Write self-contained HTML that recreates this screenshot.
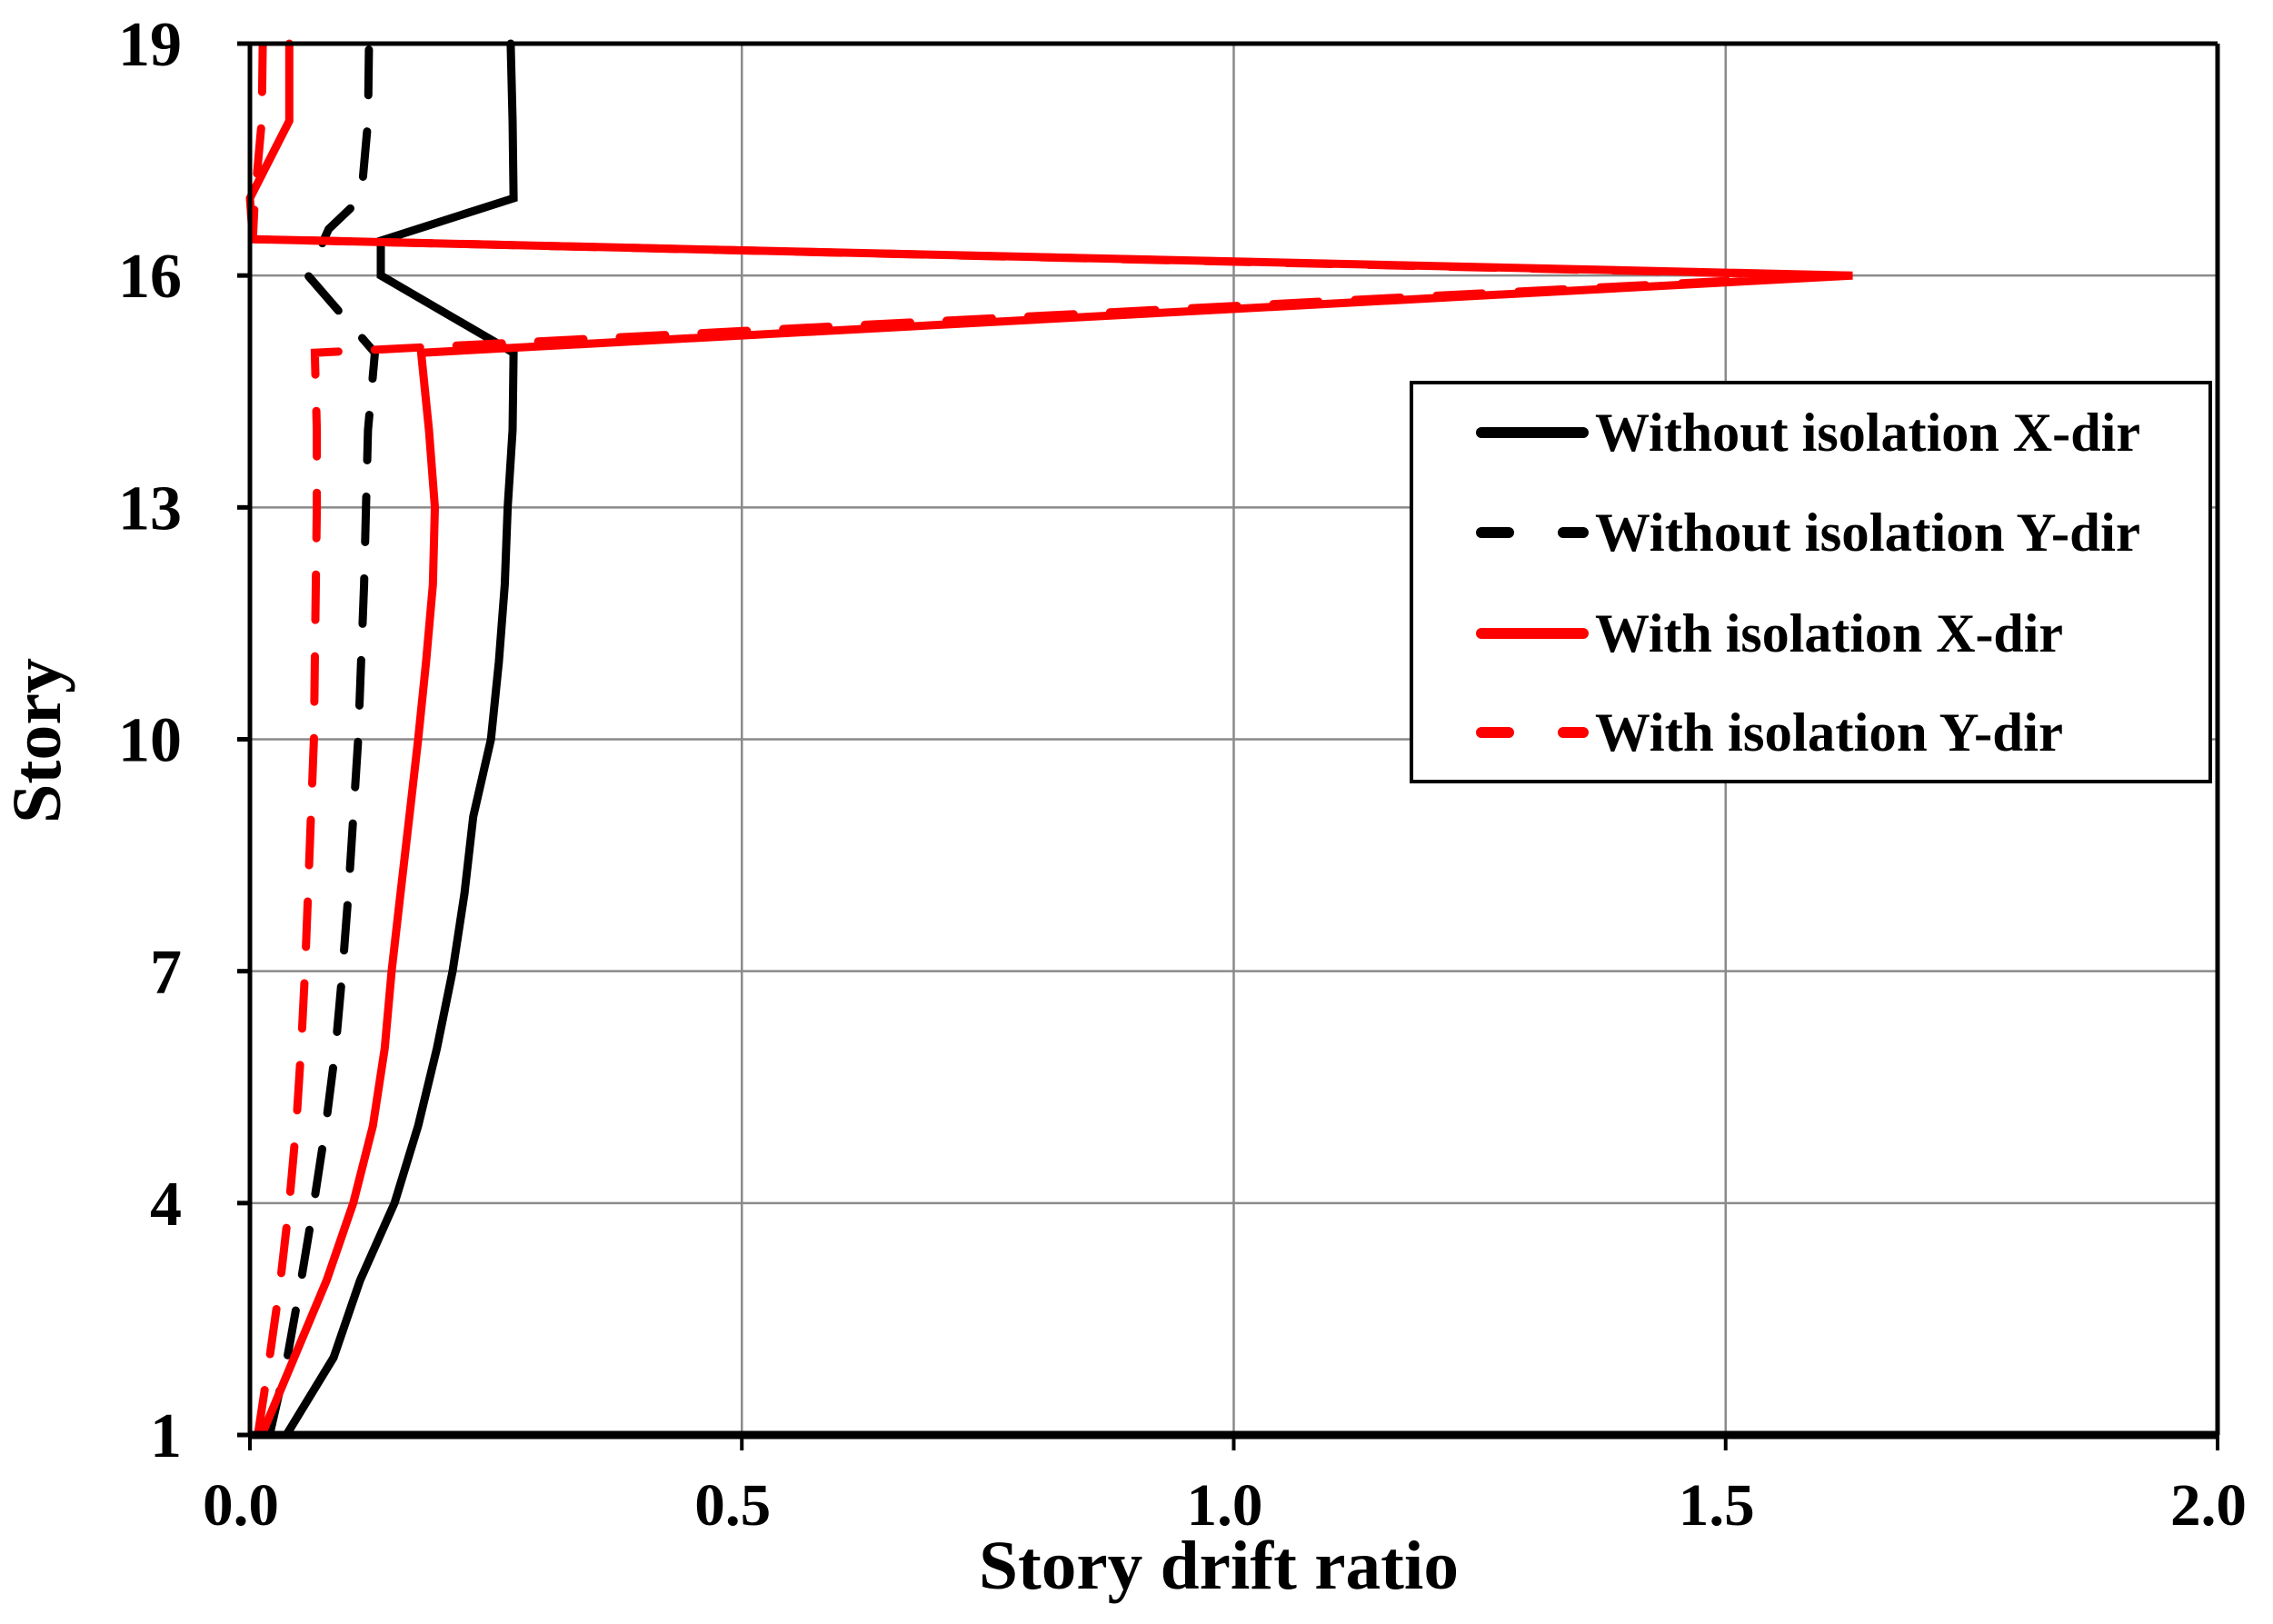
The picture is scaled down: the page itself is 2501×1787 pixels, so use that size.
<!DOCTYPE html>
<html><head><meta charset="utf-8"><style>
html,body{margin:0;padding:0;background:#fff;}
svg{display:block;font-family:"Liberation Serif",serif;font-weight:bold;}
</style></head><body>
<svg id="chart" width="2501" height="1787" viewBox="0 0 2501 1787" xmlns="http://www.w3.org/2000/svg">
<g id="grid"></g>
<g id="series"></g>
<g id="axes"></g>
<g id="legend">
<rect x="1553" y="421" width="879" height="439" fill="#fff" stroke="#000" stroke-width="4"/>
</g>
<text x="1341" y="1748" font-size="76" text-anchor="middle" textLength="528" lengthAdjust="spacingAndGlyphs">Story drift ratio</text>
<text x="0" y="0" font-size="76" text-anchor="middle" transform="translate(66,815) rotate(-90)" textLength="182" lengthAdjust="spacingAndGlyphs">Story</text>
</svg>
<script>
const xTicks = [0, 0.5, 1.0, 1.5, 2.0];
const xTickLabels = ["0.0", "0.5", "1.0", "1.5", "2.0"];
const yTicks = [1, 4, 7, 10, 13, 16, 19];
const seriesNames = ["Without isolation X-dir", "Without isolation Y-dir", "With isolation X-dir", "With isolation Y-dir"];
const woxStory = [1,2,3,4,5,6,7,8,9,10,11,12,13,14,15,16,16.45,17,18,19];
const woxDrift = [0.037,0.085,0.112,0.147,0.171,0.19,0.206,0.218,0.227,0.245,0.253,0.259,0.262,0.267,0.268,0.133,0.133,0.268,0.267,0.265];
const woyStory = [1,2,3,4,5,6,7,8,9,10,11,12,13,14,15,16,16.6,17,18,19];
const woyDrift = [0.02,0.038,0.052,0.065,0.077,0.087,0.094,0.1,0.105,0.11,0.113,0.116,0.118,0.12,0.127,0.059,0.08,0.113,0.12,0.121];
const wxStory = [1,2,3,4,5,6,7,8,9,10,11,12,13,14,15,16,16.47,17,18,19];
const wxDrift = [0.012,0.045,0.078,0.105,0.125,0.137,0.144,0.153,0.162,0.171,0.179,0.186,0.188,0.182,0.174,1.629,0.003,0.0,0.04,0.04];
const wyStory = [1,2,3,4,5,6,7,8,9,10,11,12,13,14,15,16,16.47,17,18,19];
const wyDrift = [0.008,0.02,0.031,0.04,0.047,0.052,0.056,0.059,0.062,0.065,0.066,0.067,0.068,0.068,0.066,1.61,0.003,0.005,0.012,0.013];

const L=275, R=2440, T=48, B=1579;
const sx = v => L + (v - 0) / 2 * (R - L);
const sy = s => B - (s - 1) / 18 * (B - T);
const NS='http://www.w3.org/2000/svg';
function mk(tag, parent, attrs){const e=document.createElementNS(NS,tag);for(const k in attrs)e.setAttribute(k,attrs[k]);parent.appendChild(e);return e;}
const grid=document.getElementById('grid'), axes=document.getElementById('axes'), ser=document.getElementById('series'), leg=document.getElementById('legend');

xTicks.forEach((v,i)=>{
  if(v>0 && v<2){const g=mk('line',grid,{x1:sx(v),x2:sx(v),y1:T,y2:B,stroke:'#8a8a8a','stroke-width':2.5});
  
  }
  const t=mk('line',axes,{x1:sx(v),x2:sx(v),y1:B,y2:B+17,stroke:'#000','stroke-width':4});
  
  
  const lb=mk('text',axes,{x:sx(v)-10,y:1678,'font-size':66,'text-anchor':'middle',textLength:84,lengthAdjust:'spacingAndGlyphs'});
  lb.textContent=xTickLabels[i];
  
  
});
yTicks.forEach(s=>{
  if(s>1 && s<19){const g=mk('line',grid,{x1:L,x2:R,y1:sy(s),y2:sy(s),stroke:'#8a8a8a','stroke-width':2.5});
  
  }
  const t=mk('line',axes,{x1:L-14,x2:L,y1:sy(s),y2:sy(s),stroke:'#000','stroke-width':5});
  
  
  const lb=mk('text',axes,{x:200,y:sy(s)+24,'font-size':70,'text-anchor':'end'});
  lb.textContent=String(s);
  
  
});
const frame=[[L,T,R,T,5],[L,T,L,B,5],[R,T,R,B,5],[L,B,R,B,9]];
frame.forEach(f=>{const a=mk('line',axes,{x1:f[0],y1:f[1],x2:f[2],y2:f[3],stroke:'#000','stroke-width':f[4]});
  
  });

const defs=[[woxStory,woxDrift,'#000',null],[woyStory,woyDrift,'#000','50 40'],[wxStory,wxDrift,'#ff0000',null],[wyStory,wyDrift,'#ff0000','50 40']];
const names=['series-without-isolation-x','series-without-isolation-y','series-with-isolation-x','series-with-isolation-y'];
defs.forEach((d,i)=>{
  const pts=d[0].map((s,j)=>sx(d[1][j]).toFixed(1)+','+sy(s).toFixed(1)).join(' ');
  const a={points:pts,fill:'none',stroke:d[2],'stroke-width':9,'stroke-linejoin':'miter','stroke-linecap':'round'};
  if(d[3])a['stroke-dasharray']=d[3];
  const p=mk('polyline',ser,a);
  
  
});
const ly=[476,586,697,806];
defs.forEach((d,i)=>{
  const a={x1:1630,x2:1742,y1:ly[i],y2:ly[i],stroke:d[2],'stroke-width':12,'stroke-linecap':'round'};
  if(d[3])a['stroke-dasharray']='30 60';
  const l=mk('line',leg,a);
  
  
  const t=mk('text',leg,{x:1755,y:ly[i]+20,'font-size':60,textLength:(i<2?600:515),lengthAdjust:'spacingAndGlyphs'});
  t.textContent=seriesNames[i];
  
  
});
</script>
</body></html>
